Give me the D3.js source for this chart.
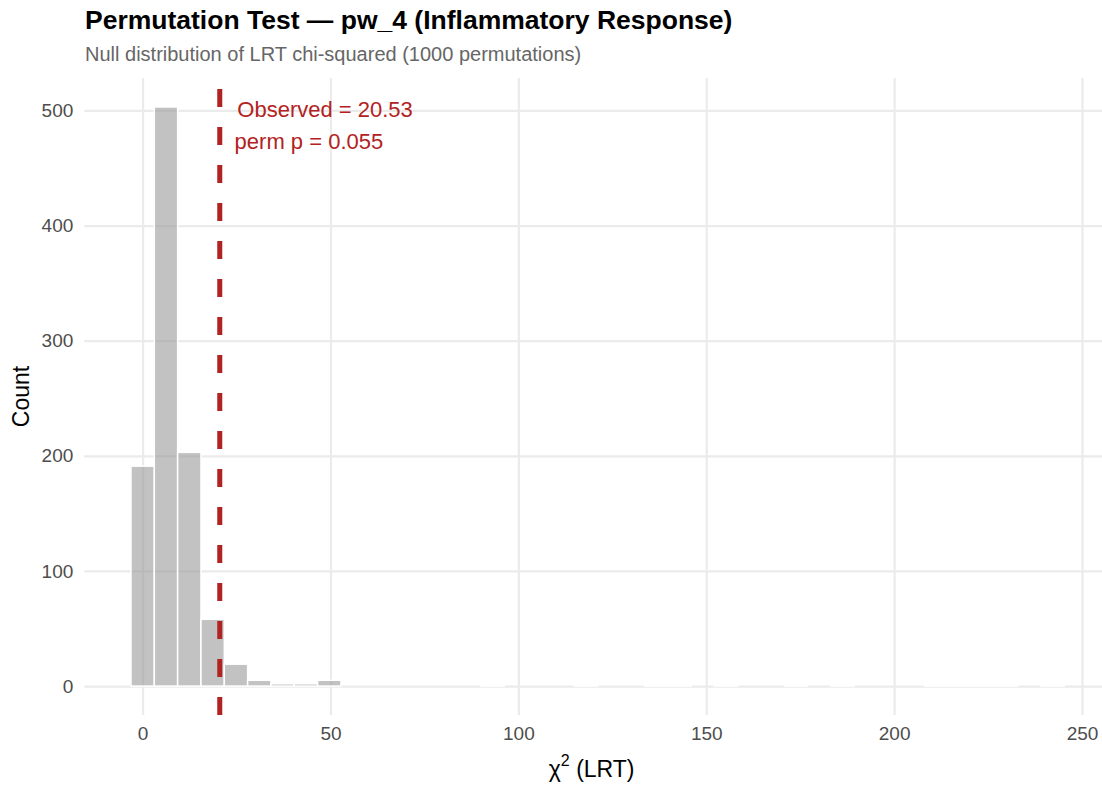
<!DOCTYPE html>
<html>
<head>
<meta charset="utf-8">
<script src="https://cdn.jsdelivr.net/npm/d3@7"></script>
<style>
  body { margin: 0; background: #fff; }
  text { font-family: "Liberation Sans", Arial, sans-serif; }
</style>
</head>
<body>
<div id="app"></div>
<script>
// histogram of permuted LRT statistics (40 bins)
var binStart = -3.1;
var binWidth = 6.21;
var counts = [191, 503, 203, 58, 19, 5, 2, 2, 5, 0,
              0, 0, 0, 0, 0, 1, 0, 0, 0, 1,
              0, 0, 1, 1, 0, 1, 0, 0, 1, 0,
              1, 0, 0, 0, 1, 1, 1, 1, 0, 1];
var observed = 20.53;
var permP = '0.055';
var xTicks = [0, 50, 100, 150, 200, 250];
var yTicks = [0, 100, 200, 300, 400, 500];

var width = 1102,
    height = 788,
    panelLeft = 84.3,
    panelRight = 1111,
    panelTop = 78,
    panelBottom = 715;

var svg = d3.select('#app')
    .append('svg')
    .attr('width', width)
    .attr('height', height);

var xMin = binStart, xMax = binStart + counts.length * binWidth;
var xPad = (xMax - xMin) * 0.05;
var xScale = d3.scaleLinear()
    .domain([xMin - xPad, xMax + xPad])
    .range([panelLeft, panelRight]);

var yMax = d3.max(counts);
var yScale = d3.scaleLinear()
    .domain([-yMax * 0.05, yMax * 1.05])
    .range([panelBottom, panelTop]);

// grid
var grid = svg.append('g');
grid.append('g')
    .attr('transform', 'translate(0,' + panelBottom + ')')
    .call(d3.axisBottom(xScale).tickValues(xTicks).tickSize(-(panelBottom - panelTop)).tickFormat(''))
    .call(function (g) { g.select('.domain').remove(); });
grid.append('g')
    .attr('transform', 'translate(' + panelLeft + ',0)')
    .call(d3.axisLeft(yScale).tickValues(yTicks).tickSize(-(panelRight - panelLeft)).tickFormat(''))
    .call(function (g) { g.select('.domain').remove(); });
grid.selectAll('line')
    .attr('stroke', '#ebebeb')
    .attr('stroke-width', 2.2);

// bars
svg.append('g')
    .selectAll('rect')
    .data(counts)
    .enter()
    .append('rect')
    .attr('x', function (d, i) { return xScale(binStart + i * binWidth); })
    .attr('width', function (d, i) {
        return xScale(binStart + (i + 1) * binWidth) - xScale(binStart + i * binWidth);
    })
    .attr('y', function (d) { return yScale(d); })
    .attr('height', function (d) { return yScale(0) - yScale(d); })
    .attr('fill', '#999999')
    .attr('fill-opacity', 0.6)
    .attr('stroke', '#ffffff')
    .attr('stroke-width', 1.5);

// observed line, dashes start at the bottom
svg.append('line')
    .attr('x1', xScale(observed))
    .attr('x2', xScale(observed))
    .attr('y1', panelBottom)
    .attr('y2', panelTop)
    .attr('stroke', '#B22222')
    .attr('stroke-width', 5)
    .attr('stroke-dasharray', '18,20');

var note = svg.append('g')
    .attr('fill', '#B22222')
    .style('font-size', '22px');
['Observed = ' + observed.toFixed(2), 'perm p = ' + permP].forEach(function (s, i) {
    var t = note.append('text')
        .attr('y', 117 + i * 31.5)
        .text(s);
    var w = t.node().getComputedTextLength();
    t.attr('x', xScale(observed) + 0.1 * w);
});

// axes labels
var xAxis = svg.append('g')
    .attr('transform', 'translate(0,' + panelBottom + ')')
    .call(d3.axisBottom(xScale).tickValues(xTicks).tickSize(0).tickPadding(12))
    .call(function (g) { g.select('.domain').remove(); });
xAxis.selectAll('text')
    .attr('fill', '#4d4d4d')
    .style('font-size', '19px')
    .style('font-family', '"Liberation Sans", Arial, sans-serif');

var yAxis = svg.append('g')
    .attr('transform', 'translate(' + panelLeft + ',0)')
    .call(d3.axisLeft(yScale).tickValues(yTicks).tickSize(0).tickPadding(11))
    .call(function (g) { g.select('.domain').remove(); });
yAxis.selectAll('text')
    .attr('fill', '#4d4d4d')
    .style('font-size', '19px')
    .style('font-family', '"Liberation Sans", Arial, sans-serif');

// titles
svg.append('text')
    .attr('x', 85)
    .attr('y', 29)
    .style('font-size', '26.5px')
    .style('font-weight', 'bold')
    .attr('fill', '#000')
    .text('Permutation Test \u2014 pw_4 (Inflammatory Response)');

svg.append('text')
    .attr('x', 85)
    .attr('y', 61)
    .style('font-size', '20px')
    .attr('fill', '#666666')
    .text('Null distribution of LRT chi-squared (1000 permutations)');

var xt = svg.append('text')
    .attr('x', (panelLeft + panelRight) / 2 - 6)
    .attr('y', 777)
    .attr('text-anchor', 'middle')
    .style('font-size', '23px')
    .attr('fill', '#000');
xt.append('tspan').text('\u03c7');
xt.append('tspan').attr('dy', -11).style('font-size', '16px').text('2');
xt.append('tspan').attr('dy', 11).text(' (LRT)');

svg.append('text')
    .attr('transform', 'translate(29,' + ((panelTop + panelBottom) / 2) + ') rotate(-90)')
    .attr('text-anchor', 'middle')
    .style('font-size', '23px')
    .attr('fill', '#000')
    .text('Count');
</script>
</body>
</html>
